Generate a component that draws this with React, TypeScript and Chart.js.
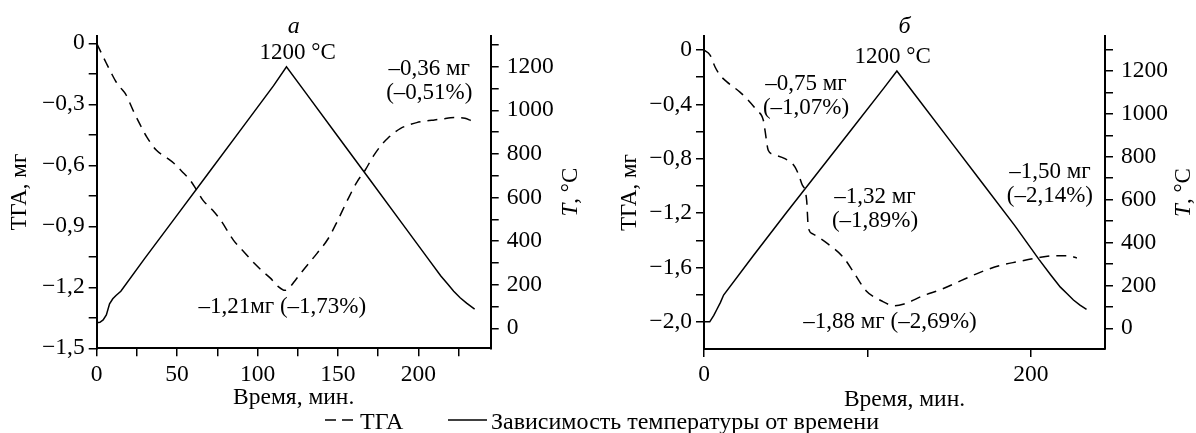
import React, { useEffect, useRef } from 'react';
import { Chart, registerables } from 'chart.js';
Chart.register(...registerables);

const FONT = '"Liberation Serif", "Times New Roman", serif';

// ---------- Panel а ----------
const timeTempA = [0, 2, 4, 6, 8, 10, 12, 15, 30, 50, 70, 90, 110, 118, 130, 150, 170, 190, 205, 214, 218, 222, 226, 230, 235];
const tempA = [25, 27, 38, 61, 112, 135, 150, 170, 322, 519, 717, 915, 1113, 1200, 1080, 880, 680, 480, 330, 240, 205, 170, 140, 115, 88];
const timeTgaA = [0, 4, 6, 9, 12, 15, 18, 23, 27, 31, 37, 43, 48, 53, 58, 62, 66, 72, 77, 85, 92, 98, 103, 108, 113, 117, 120, 124, 130, 137, 144, 150, 156, 162, 167, 172, 177, 181, 185, 189, 194, 199, 205, 210, 215, 220, 225, 229, 233];
const tgaA = [0, -0.066, -0.098, -0.145, -0.189, -0.22, -0.25, -0.336, -0.4, -0.459, -0.525, -0.56, -0.59, -0.63, -0.672, -0.72, -0.771, -0.82, -0.869, -0.968, -1.03, -1.082, -1.12, -1.155, -1.197, -1.215, -1.2, -1.16, -1.1, -1.033, -0.96, -0.869, -0.77, -0.68, -0.623, -0.555, -0.5, -0.467, -0.44, -0.418, -0.402, -0.39, -0.382, -0.377, -0.372, -0.366, -0.365, -0.369, -0.381];

const xTicksA = [0, 25, 50, 75, 100, 125, 150, 175, 200, 225];
const xLabelsA = ['0', '', '50', '', '100', '', '150', '', '200', ''];
const yTicksA = [-1.5, -1.35, -1.2, -1.05, -0.9, -0.75, -0.6, -0.45, -0.3, -0.15, 0];
const yLabelsA = ['−1,5', '', '−1,2', '', '−0,9', '', '−0,6', '', '−0,3', '', '0'];
const tTicksA = [0, 100, 200, 300, 400, 500, 600, 700, 800, 900, 1000, 1100, 1200, 1300];
const tLabelsA = ['0', '', '200', '', '400', '', '600', '', '800', '', '1000', '', '1200', ''];

const notesA = [
  { lines: ['1200 °C'], x: 125, y: -0.077 },
  { lines: ['–1,21мг (–1,73%)'], x: 115.4, y: -1.327 },
  { lines: ['–0,36 мг', '(–0,51%)'], x: 206.8, y: -0.156 },
];

// ---------- Panel б ----------
const timeTempB = [0, 3.5, 6, 8, 10, 12, 30, 50, 70, 90, 110, 118, 130, 150, 170, 190, 205, 212, 218, 222, 226, 230, 234];
const tempB = [30, 30, 60, 90, 120, 155, 337, 535, 730, 925, 1120, 1200, 1080, 880, 680, 480, 320, 250, 192, 162, 132, 108, 88];
const timeTgaB = [0, 3.7, 6.7, 9.8, 14, 17.9, 22, 26.1, 32.2, 36.3, 37.3, 39.3, 42.4, 49.5, 55.7, 59.8, 62.8, 63.8, 66.5, 75.8, 85.2, 92.2, 99.1, 108.4, 116.6, 122.4, 134, 145.6, 157.2, 168.9, 180.5, 192.1, 203.7, 215.4, 222.3, 228.1];
const tgaB = [0, -0.037, -0.123, -0.185, -0.235, -0.271, -0.31, -0.357, -0.443, -0.517, -0.59, -0.738, -0.768, -0.8, -0.861, -0.984, -1.107, -1.304, -1.353, -1.427, -1.525, -1.648, -1.771, -1.845, -1.882, -1.869, -1.808, -1.759, -1.697, -1.636, -1.587, -1.557, -1.53, -1.513, -1.513, -1.53];

const xTicksB = [0, 100, 200];
const xLabelsB = ['0', '', '200'];
const yTicksB = [-2.0, -1.8, -1.6, -1.4, -1.2, -1.0, -0.8, -0.6, -0.4, -0.2, 0];
const yLabelsB = ['−2,0', '', '−1,6', '', '−1,2', '', '−0,8', '', '−0,4', '', '0'];
const tTicksB = [0, 100, 200, 300, 400, 500, 600, 700, 800, 900, 1000, 1100, 1200, 1300];
const tLabelsB = ['0', '', '200', '', '400', '', '600', '', '800', '', '1000', '', '1200', ''];

const notesB = [
  { lines: ['1200 °C'], x: 115.4, y: -0.096 },
  { lines: ['–0,75 мг', '(–1,07%)'], x: 62.4, y: -0.294 },
  { lines: ['–1,32 мг', '(–1,89%)'], x: 104.6, y: -1.126 },
  { lines: ['–1,50 мг', '(–2,14%)'], x: 211.6, y: -0.942 },
  { lines: ['–1,88 мг (–2,69%)'], x: 113.8, y: -2.046 },
];

const xTitle = 'Время, мин.';
const yTitle = 'ТГА, мг';
const legendTga = 'ТГА';
const legendTemp = 'Зависимость температуры от времени';

function pts(xs: number[], ys: number[]) {
  return xs.map((x, i) => ({ x, y: ys[i] }));
}

type PanelCfg = {
  id: string;
  title: string;
  tTime: number[]; temp: number[]; gTime: number[]; tga: number[];
  xTicks: number[]; xLabels: string[]; yTicks: number[]; yLabels: string[];
  tTicks: number[]; tLabels: string[];
  yMin: number; yMax: number; tMin: number; tMax: number; xMax: number;
  padding: { left: number; right: number; top: number; bottom: number };
  leftW: number; rightW: number; bottomH: number;
  yTitleDx: number; tTitleDx: number; xTitleDy: number;
  notes: { lines: string[]; x: number; y: number }[];
  legend: boolean;
};

function makeChart(canvas: HTMLCanvasElement, c: PanelCfg) {
  const tickFont = { family: FONT, size: 23.5 };
  const grid = { display: true, drawOnChartArea: false, drawTicks: true, tickLength: 8, color: '#000', lineWidth: 1.5 };
  const border = { display: true, color: '#000', width: 2 };
  const decor = {
    id: 'decor' + c.id,
    afterDraw(chart: any) {
      const { ctx, chartArea, scales } = chart;
      ctx.save();
      ctx.fillStyle = '#000';
      ctx.strokeStyle = '#000';
      const cx = (chartArea.left + chartArea.right) / 2;
      // panel title
      ctx.font = `italic 24px ${FONT}`;
      ctx.textAlign = 'center';
      ctx.textBaseline = 'alphabetic';
      ctx.fillText(c.title, cx, chartArea.top - 3);
      // x title
      ctx.font = `23.5px ${FONT}`;
      ctx.fillText(xTitle, cx, chartArea.bottom + c.xTitleDy);
      // y titles
      const cy = (chartArea.top + chartArea.bottom) / 2;
      ctx.font = `23px ${FONT}`;
      ctx.save();
      ctx.translate(chartArea.left + c.yTitleDx, cy);
      ctx.rotate(-Math.PI / 2);
      ctx.textBaseline = 'middle';
      ctx.fillText(yTitle, 0, 0);
      ctx.restore();
      ctx.save();
      ctx.translate(chartArea.right + c.tTitleDx, cy);
      ctx.rotate(-Math.PI / 2);
      ctx.textBaseline = 'middle';
      ctx.textAlign = 'left';
      ctx.font = `italic 23px ${FONT}`;
      const w1 = ctx.measureText('T').width;
      ctx.font = `23px ${FONT}`;
      const w2 = ctx.measureText(', °C').width;
      const start = -(w1 + w2) / 2;
      ctx.font = `italic 23px ${FONT}`;
      ctx.fillText('T', start, 0);
      ctx.font = `23px ${FONT}`;
      ctx.fillText(', °C', start + w1, 0);
      ctx.restore();
      // annotations
      ctx.font = `23px ${FONT}`;
      ctx.textAlign = 'center';
      ctx.textBaseline = 'alphabetic';
      for (const n of c.notes) {
        const px = scales.x.getPixelForValue(n.x);
        const py = scales.y.getPixelForValue(n.y);
        n.lines.forEach((s, i) => ctx.fillText(s, px, py + i * 24));
      }
      // legend
      if (c.legend) {
        const ly = 420;
        ctx.lineWidth = 1.5;
        ctx.setLineDash([11, 6]);
        ctx.beginPath();
        ctx.moveTo(325, ly);
        ctx.lineTo(354, ly);
        ctx.stroke();
        ctx.setLineDash([]);
        ctx.beginPath();
        ctx.moveTo(448, ly);
        ctx.lineTo(487, ly);
        ctx.stroke();
        ctx.font = `24px ${FONT}`;
        ctx.textAlign = 'left';
        ctx.fillText(legendTga, 360, 429);
        ctx.fillText(legendTemp, 491, 429);
      }
      ctx.restore();
    },
  };

  return new Chart(canvas, {
    type: 'line',
    data: {
      datasets: [
        {
          label: legendTga,
          data: pts(c.gTime, c.tga),
          yAxisID: 'y',
          borderColor: '#000',
          borderWidth: 1.5,
          borderDash: [10, 7],
          pointRadius: 0,
          fill: false,
          cubicInterpolationMode: 'monotone',
        },
        {
          label: legendTemp,
          data: pts(c.tTime, c.temp),
          yAxisID: 'y1',
          borderColor: '#000',
          borderWidth: 1.5,
          pointRadius: 0,
          fill: false,
          tension: 0,
        },
      ],
    },
    options: {
      animation: false,
      responsive: false,
      events: [],
      layout: { padding: c.padding },
      plugins: { legend: { display: false }, tooltip: { enabled: false }, title: { display: false } },
      scales: {
        x: {
          type: 'linear',
          position: 'bottom',
          min: 0,
          max: c.xMax,
          grid,
          border,
          afterBuildTicks: (s: any) => { s.ticks = c.xTicks.map((v) => ({ value: v })); },
          afterFit: (s: any) => { s.height = c.bottomH; },
          ticks: {
            color: '#000', font: tickFont, padding: 4, autoSkip: false, maxRotation: 0,
            callback: (_v: any, i: number) => c.xLabels[i],
          },
        },
        y: {
          type: 'linear',
          position: 'left',
          min: c.yMin,
          max: c.yMax,
          grid,
          border,
          afterBuildTicks: (s: any) => { s.ticks = c.yTicks.map((v) => ({ value: v })); },
          afterFit: (s: any) => { s.width = c.leftW; },
          ticks: {
            color: '#000', font: tickFont, padding: 4, autoSkip: false,
            callback: (_v: any, i: number) => c.yLabels[i],
          },
        },
        y1: {
          type: 'linear',
          position: 'right',
          min: c.tMin,
          max: c.tMax,
          grid,
          border,
          afterBuildTicks: (s: any) => { s.ticks = c.tTicks.map((v) => ({ value: v })); },
          afterFit: (s: any) => { s.width = c.rightW; },
          ticks: {
            color: '#000', font: tickFont, padding: 8, autoSkip: false,
            callback: (_v: any, i: number) => c.tLabels[i],
          },
        },
      },
    },
    plugins: [decor],
  } as any);
}

const panelA: PanelCfg = {
  id: 'a', title: 'а',
  tTime: timeTempA, temp: tempA, gTime: timeTgaA, tga: tgaA,
  xTicks: xTicksA, xLabels: xLabelsA, yTicks: yTicksA, yLabels: yLabelsA, tTicks: tTicksA, tLabels: tLabelsA,
  yMin: -1.5, yMax: 0.036, tMin: -92, tMax: 1341, xMax: 245,
  padding: { left: 0, right: 596, top: 36, bottom: 0 },
  leftW: 96.7, rightW: 109.3, bottomH: 84.7,
  yTitleDx: -77, tTitleDx: 80, xTitleDy: 56,
  notes: notesA, legend: true,
};

const panelB: PanelCfg = {
  id: 'b', title: 'б',
  tTime: timeTempB, temp: tempB, gTime: timeTgaB, tga: tgaB,
  xTicks: xTicksB, xLabels: xLabelsB, yTicks: yTicksB, yLabels: yLabelsB, tTicks: tTicksB, tLabels: tLabelsB,
  yMin: -2.2, yMax: 0.103, tMin: -96.5, tMax: 1363, xMax: 245.3,
  padding: { left: 600, right: 0, top: 36, bottom: 0 },
  leftW: 104, rightW: 91, bottomH: 84,
  yTitleDx: -74, tTitleDx: 79, xTitleDy: 57,
  notes: notesB, legend: false,
};

export default function App() {
  const refA = useRef<HTMLCanvasElement>(null);
  const refB = useRef<HTMLCanvasElement>(null);
  useEffect(() => {
    const a = makeChart(refA.current!, panelA);
    const b = makeChart(refB.current!, panelB);
    return () => { a.destroy(); b.destroy(); };
  }, []);
  const cs: React.CSSProperties = { position: 'absolute', left: 0, top: 0, width: 1196, height: 433 };
  return (
    <div style={{ position: 'absolute', left: 0, top: 0, width: 1196, height: 433, background: '#fff' }}>
      <canvas ref={refA} width={1196} height={433} style={cs} />
      <canvas ref={refB} width={1196} height={433} style={cs} />
    </div>
  );
}
